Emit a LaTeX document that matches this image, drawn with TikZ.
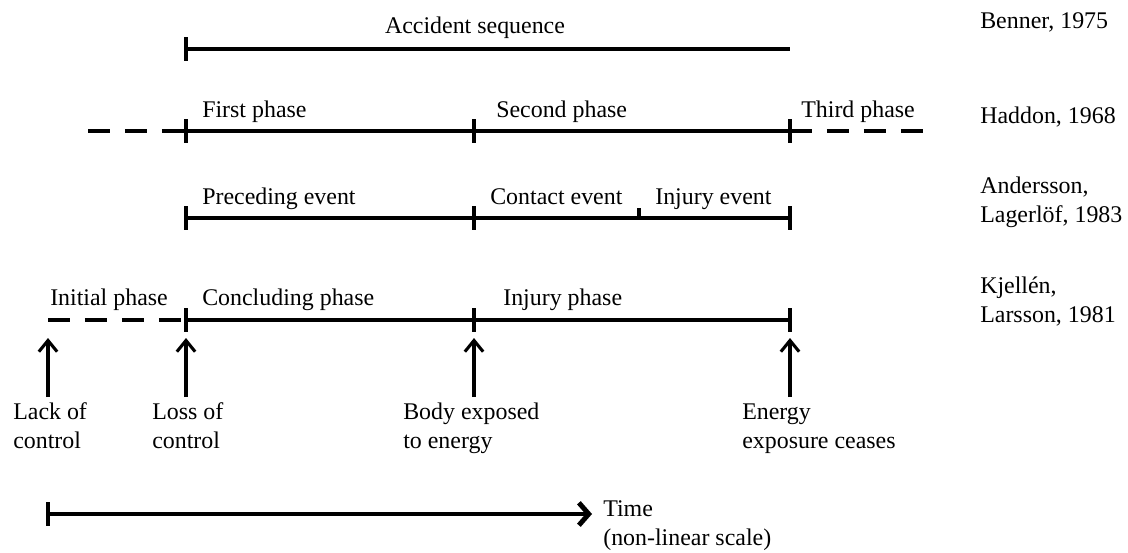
\documentclass[tikz,border=0pt]{standalone}
\usepackage{fontspec}
\setmainfont{Liberation Serif}
\newfontfamily\timesfont{Liberation Serif}
\usetikzlibrary{arrows.meta}

\tikzset{
  axis/.style={line width=3.5pt},
  dashaxis/.style={line width=3.5pt, dash pattern=on 15.6pt off 10.7pt},
  tickmark/.style={line width=2.8pt},
  uparrow/.style={line width=2.2pt, -{Straight Barb[length=8pt,width=13pt]}},
  timearrow/.style={line width=3.5pt, -{Straight Barb[length=7pt,width=16pt]}},
  lbl/.style={inner sep=0pt, anchor=base west},
  multilbl/.style={inner sep=0pt, anchor=base west, align=left},
}

\begin{document}
\begin{tikzpicture}[x=0.025cm, y=-0.025cm, font=\timesfont\fontsize{17}{20}\selectfont]
  \useasboundingbox (0,0) rectangle (1128,552);

  % Benner: accident sequence
  \coordinate (ben1) at (186,49);
  \coordinate (ben2) at (790,49);
  \draw[axis] (ben1) -- (ben2);
  \draw[tickmark] (ben1) ++(0,-12) -- ++(0,24);
  \node[anchor=base, inner sep=0pt] (accseq) at (475,33) {Accident sequence};

  % Haddon: three phases
  \coordinate (had0) at (88,131);
  \coordinate (had1) at (186,131);
  \coordinate (had2) at (474,131);
  \coordinate (had3) at (790,131);
  \coordinate (had4) at (930,131);
  \draw[dashaxis] (had0) -- (had1);
  \draw[axis] (had1) -- (had3);
  \draw[dashaxis] (had3) -- (had4);
  \foreach \p in {had1,had2,had3}
    \draw[tickmark] (\p) ++(0,-12) -- ++(0,24);
  \node[lbl] (first) at (202,117) {First phase};
  \node[lbl] (second) at (496,117) {Second phase};
  \node[lbl] (third) at (801,117) {Third phase};

  % Andersson, Lagerlof: events
  \coordinate (and1) at (186,218);
  \coordinate (and2) at (474,218);
  \coordinate (and3) at (639,218);
  \coordinate (and4) at (790,218);
  \draw[axis] (and1) -- (and4);
  \foreach \p in {and1,and2,and4}
    \draw[tickmark] (\p) ++(0,-12) -- ++(0,24);
  \draw[tickmark] (and3) -- ++(0,-10);
  \node[lbl] (preceding) at (202,204) {Preceding event};
  \node[lbl] (contact) at (490,204) {Contact event};
  \node[lbl] (injev) at (655,204) {Injury event};

  % Kjellen, Larsson: phases
  \coordinate (kje0) at (48,320);
  \coordinate (kje1) at (186,320);
  \coordinate (kje2) at (474,320);
  \coordinate (kje3) at (790,320);
  \draw[dashaxis] (kje0) -- (kje1);
  \draw[axis] (kje1) -- (kje3);
  \foreach \p in {kje1,kje2,kje3}
    \draw[tickmark] (\p) ++(0,-12) -- ++(0,24);
  \node[lbl] (initial) at (50,305) {Initial phase};
  \node[lbl] (concluding) at (202,305) {Concluding phase};
  \node[lbl] (injph) at (503,305) {Injury phase};

  % Draw arrows up to the time points
  \foreach \x/\n in {48/0,186/1,474/2,790/3}
    \coordinate (foot\n) at (\x,397);
  \draw[uparrow] (foot0) -- ([yshift=-0.45cm]kje0);
  \draw[uparrow] (foot1) -- ([yshift=-0.45cm]kje1);
  \draw[uparrow] (foot2) -- ([yshift=-0.45cm]kje2);
  \draw[uparrow] (foot3) -- ([yshift=-0.45cm]kje3);
  \node[multilbl] (lack) at (13,448) {Lack of\\control};
  \node[multilbl] (loss) at (152,448) {Loss of\\control};
  \node[multilbl] (body) at (403,448) {Body exposed\\to energy};
  \node[multilbl] (ceases) at (742,448) {Energy\\exposure ceases};

  % Time axis
  \coordinate (time0) at (48,514);
  \coordinate (time1) at (592,514);
  \draw[timearrow] (time0) -- (time1);
  \draw[tickmark] (time0) ++(0,-12) -- ++(0,24);
  \node[multilbl] (timelbl) at (603,545) {Time\\(non-linear scale)};

  % Draw sources
  \node[lbl] (benner) at (980,28) {Benner, 1975};
  \node[lbl] (haddon) at (980,123) {Haddon, 1968};
  \node[multilbl] (andersson) at (980,222) {Andersson,\\Lagerlöf, 1983};
  \node[multilbl] (kjellen) at (980,322) {Kjellén,\\Larsson, 1981};
\end{tikzpicture}
\end{document}
